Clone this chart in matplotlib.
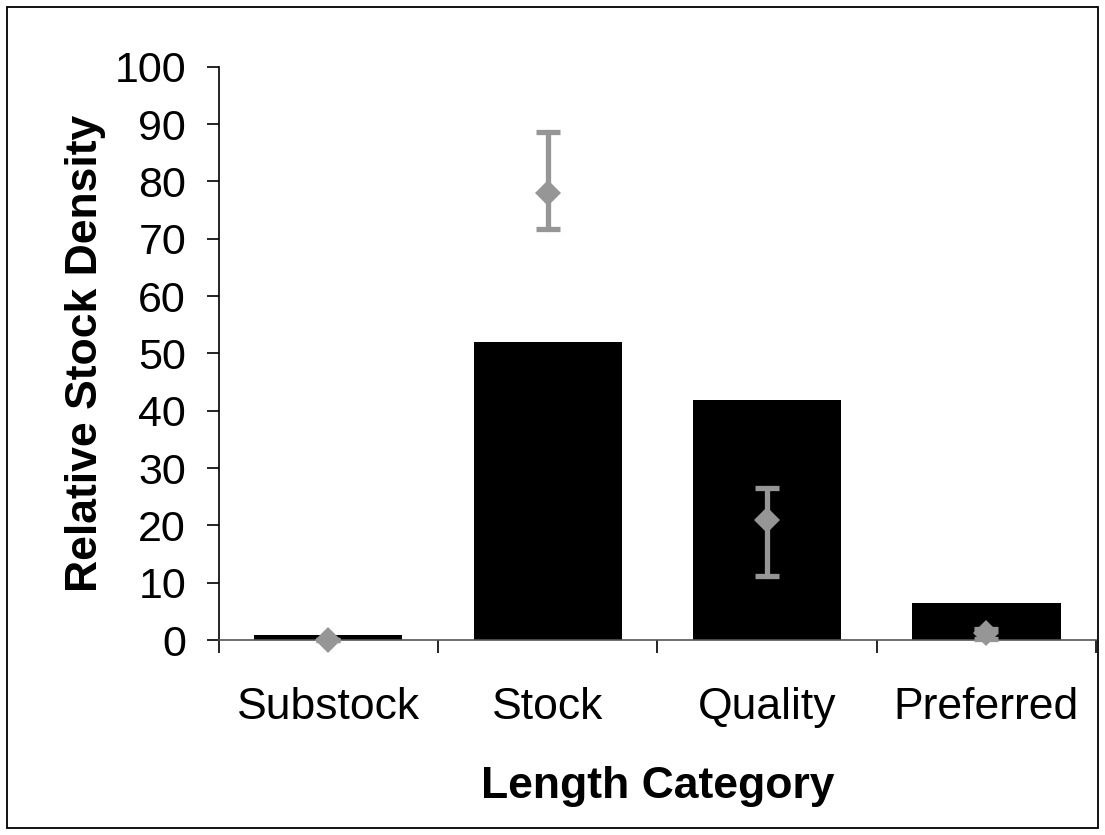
import numpy as np
import matplotlib.pyplot as plt
from matplotlib.patches import Rectangle

plt.rcParams['font.family'] = ['Liberation Sans', 'DejaVu Sans']

# data
categories = ["Substock", "Stock", "Quality", "Preferred"]
bar_values = [0.9, 52.0, 41.9, 6.5]
point_values = [0.0, 78.0, 20.9, 1.2]
err_low = [0.0, 6.3, 9.7, 1.0]
err_high = [0.0, 10.7, 5.6, 0.8]

fig = plt.figure(figsize=(11.05, 8.35), dpi=100)
ax = fig.add_axes([0.198, 0.2335, 0.794, 0.6865])

x = np.arange(len(categories))
ax.bar(x, bar_values, width=0.675, color="black", zorder=2)

gray = "#969696"
eb = ax.errorbar(x, point_values, yerr=[err_low, err_high], fmt="D", color=gray,
                 ecolor=gray, elinewidth=3.8, capsize=8.5, capthick=3.8,
                 markersize=13.5, zorder=3, clip_on=False)
eb[0].set_markeredgewidth(0)
for c in eb[1]:
    c.set_solid_capstyle("round")
for l in eb[2]:
    l.set_capstyle("round")

ax.set_xlim(-0.5, 3.5)
ax.set_ylim(0, 100)
ax.set_yticks(np.arange(0, 101, 10))
ax.tick_params(axis="y", labelsize=31, length=8.6, width=1.2, pad=15)

ax.set_xticks(x)
ax.set_xticklabels(categories)
ax.tick_params(axis="x", which="major", length=0, labelsize=32, pad=34)
ax.set_xticks(np.arange(-0.5, 4, 1), minor=True)
ax.tick_params(axis="x", which="minor", length=9, width=1.2)

for s in ["top", "right"]:
    ax.spines[s].set_visible(False)
ax.spines["left"].set_linewidth(1.2)
ax.spines["bottom"].set_linewidth(1.2)
ax.spines["bottom"].set_color("#555555")

ax.set_ylabel("Relative Stock Density", fontsize=32, fontweight="bold", labelpad=6)
ax.set_xlabel("Length Category", fontsize=32, fontweight="bold", labelpad=27)

fig.patches.append(Rectangle((0.0065, 0.0084), 0.987, 0.983, transform=fig.transFigure,
                             fill=False, edgecolor="black", linewidth=1.3))

fig.savefig("out.png", dpi=100)
